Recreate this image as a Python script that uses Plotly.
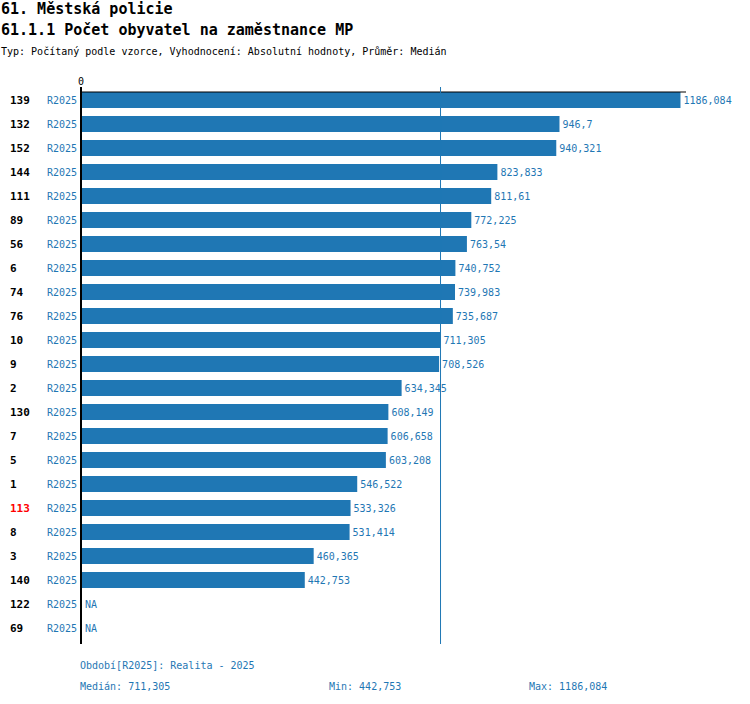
"""bar chart: pocet obyvatel na zamestnance MP (mestska policie), R2025"""

import plotly.graph_objects as go

# %% data read from the report
ids = ['139', '132', '152', '144', '111', '89', '56', '6', '74', '76', '10', '9',
       '2', '130', '7', '5', '1', '113', '8', '3', '140', '122', '69']
values = [1186.084, 946.7, 940.321, 823.833, 811.61, 772.225, 763.54, 740.752,
          739.983, 735.687, 711.305, 708.526, 634.345, 608.149, 606.658, 603.208,
          546.522, 533.326, 531.414, 460.365, 442.753, None, None]
period = 'R2025'
highlight_id = '113'
median_value = 711.305
min_value = 442.753
max_value = 1186.084

title1 = '61. Městská policie'
title2 = '61.1.1 Počet obyvatel na zaměstnance MP'
subtitle = 'Typ: Počítaný podle vzorce, Vyhodnocení: Absolutní hodnoty, Průměr: Medián'
period_note = 'Období[R2025]: Realita - 2025'

# %% layout helpers (pixel -> paper)
W, H = 750, 704
L, R, T, B = 81, 64, 88, 64
PW, PH = W - L - R, H - T - B
BLUE = '#1f77b4'
FONT = 'DejaVu Sans Mono'


def px_x(px):
    return (px - L) / PW


def px_y(py):
    return (H - B - py) / PH


def fmt(v):
    # czech decimal comma
    return str(v).replace('.', ',')


# %% figure
fig = go.Figure()
fig.add_trace(go.Bar(
    x=values, y=ids, orientation='h',
    marker=dict(color=BLUE, line=dict(width=0)),
    text=[fmt(v) if v is not None else '' for v in values],
    textposition='outside', cliponaxis=False,
    textfont=dict(family=FONT, size=10, color=BLUE),
    hoverinfo='skip'))

annotations = []
# ids look numeric, so annotations go by row index on the category axis
for k, (i, v) in enumerate(zip(ids, values)):
    annotations.append(dict(x=px_x(8), y=k, xref='paper', yref='y', text='<b>%s</b>' % i,
                            xanchor='left', yanchor='middle', showarrow=False,
                            font=dict(family=FONT, size=11,
                                      color='#ff0000' if i == highlight_id else 'black')))
    annotations.append(dict(x=px_x(79), y=k, xref='paper', yref='y', text=period,
                            xanchor='right', yanchor='middle', showarrow=False,
                            font=dict(family=FONT, size=10, color=BLUE)))
    if v is None:
        annotations.append(dict(x=0, y=k, xref='x', yref='y', text='NA', xshift=2,
                                xanchor='left', yanchor='middle', showarrow=False,
                                font=dict(family=FONT, size=10, color=BLUE)))

# axis zero label
annotations.append(dict(x=0, y=px_y(81), xref='x', yref='paper', text='0',
                        xanchor='center', yanchor='middle', showarrow=False,
                        font=dict(family=FONT, size=10, color='black')))

# titles
for txt, py, size in [('<b>%s</b>' % title1, 9, 15), ('<b>%s</b>' % title2, 30, 15),
                      (subtitle, 51, 10)]:
    annotations.append(dict(x=px_x(-1), y=px_y(py), xref='paper', yref='paper', text=txt,
                            xanchor='left', yanchor='middle', showarrow=False,
                            font=dict(family=FONT, size=size, color='black')))

# footer
for txt, pxx, py in [(period_note, 78, 665),
                     ('Medián: ' + fmt(median_value), 78, 686),
                     ('Min: ' + fmt(min_value), 327, 686),
                     ('Max: ' + fmt(max_value), 527, 686)]:
    annotations.append(dict(x=px_x(pxx), y=px_y(py), xref='paper', yref='paper', text=txt,
                            xanchor='left', yanchor='middle', showarrow=False,
                            font=dict(family=FONT, size=10, color=BLUE)))

shapes = [
    # top axis line
    dict(type='line', xref='paper', yref='paper', x0=px_x(80), x1=px_x(686),
         y0=px_y(92), y1=px_y(92), line=dict(color='black', width=1)),
    # left axis line
    dict(type='line', xref='paper', yref='paper', x0=px_x(81), x1=px_x(81),
         y0=px_y(87), y1=px_y(644), line=dict(color='black', width=2)),
    # median line
    dict(type='line', xref='x', yref='paper', x0=median_value, x1=median_value,
         y0=px_y(87), y1=px_y(644), line=dict(color=BLUE, width=1)),
]

fig.update_xaxes(range=[0, 1197], showgrid=False, zeroline=False, showline=False,
                 showticklabels=False, fixedrange=True)
fig.update_yaxes(type='category', categoryorder='array', categoryarray=ids,
                 range=[len(ids) - 0.5, -0.5], showgrid=False, zeroline=False,
                 showline=False, showticklabels=False)
fig.update_layout(width=W, height=H, margin=dict(l=L, r=R, t=T, b=B),
                  plot_bgcolor='white', paper_bgcolor='white', bargap=1 / 3,
                  showlegend=False, annotations=annotations, shapes=shapes,
                  font=dict(family=FONT))

# drop the browser's default body margin so the figure sits at the page corner
fig.write_html("out.html", config={'displayModeBar': False},
               post_script="document.body.style.margin='0';")
